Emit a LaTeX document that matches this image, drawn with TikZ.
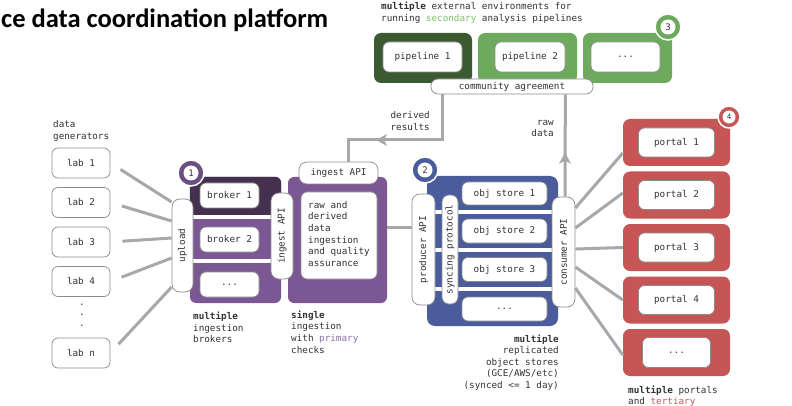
\documentclass[tikz,border=0pt]{standalone}
\usepackage{fontspec}
\setmonofont{DejaVu Sans Mono}
\newfontfamily\titlefont{Carlito}
\usetikzlibrary{calc,arrows.meta}
\definecolor{gdark}{HTML}{3C5A32}
\definecolor{glight}{HTML}{6DAA5E}
\definecolor{gtext}{HTML}{7DBE6B}
\definecolor{pdark}{HTML}{46304F}
\definecolor{pmid}{HTML}{7B5893}
\definecolor{ptext}{HTML}{8C72A8}
\definecolor{bmid}{HTML}{4A5C9C}
\definecolor{rmid}{HTML}{C65656}
\definecolor{rtext}{HTML}{C85A5A}
\definecolor{linegray}{HTML}{A8A8A8}
\definecolor{pillgray}{HTML}{8C8C8C}
\definecolor{txt}{HTML}{333333}
\begin{document}
\begin{tikzpicture}[x=1pt,y=-1pt,
  font=\ttfamily\fontsize{9.3}{11.6}\selectfont, text=txt,
  conn/.style={draw=linegray, line width=3pt},
  pill/.style={draw=pillgray, fill=white, line width=0.7pt, rounded corners=8pt, inner sep=0pt},
  wbox/.style={draw=pillgray, fill=white, line width=0.7pt, rounded corners=6pt, inner sep=0pt},
  cbox/.style={rounded corners=7pt, inner sep=0pt},
  note/.style={align=left, inner sep=0pt},
  ring/.style={circle, draw=white, line width=1.5pt, inner sep=0pt, minimum size=26pt},
  hole/.style={circle, fill=white, inner sep=0pt, minimum size=15pt, font=\ttfamily\fontsize{9}{10}\selectfont}
]
\useasboundingbox (0,0) rectangle (792,406);
\fill[white] (0,0) rectangle (792,406);

% title
\node[anchor=base west, inner sep=0pt, text=black, font=\titlefont\bfseries\fontsize{26.5}{30}\selectfont] (title) at (1,28) {ce data coordination platform};

% top text
\node[note, anchor=west] (toptext) at (381,12.5) {\textbf{multiple} external environments for\\running \textcolor{gtext}{secondary} analysis pipelines};

% pipelines
\node[cbox, fill=gdark, minimum width=98pt, minimum height=50pt] (pipe1) at (423,58) {};
\node[cbox, fill=glight, minimum width=99pt, minimum height=50pt] (pipe2) at (527.5,58) {};
\node[cbox, fill=glight, minimum width=89pt, minimum height=50pt] (pipe3) at (627.5,58) {};
\node[wbox, minimum width=79pt, minimum height=30pt] (pipe1in) at (422.5,57) {pipeline 1};
\node[wbox, minimum width=70pt, minimum height=30pt] (pipe2in) at (530,57) {pipeline 2};
\node[wbox, minimum width=69pt, minimum height=30pt] (pipe3in) at (625.5,57) {...};
\node[ring, fill=glight] (c3) at (668,27) {};
\node[hole] (c3in) at (c3) {3};

% community agreement
\node[pill, rounded corners=7pt, minimum width=162pt, minimum height=15pt] (community) at (512,86.5) {community agreement};

% data generators
\node[note, anchor=west] (gentext) at (53,131) {data\\generators};
\node[wbox, minimum width=58pt, minimum height=30pt] (lab1) at (81,163) {lab 1};
\node[wbox, minimum width=58pt, minimum height=30pt] (lab2) at (81,202.5) {lab 2};
\node[wbox, minimum width=58pt, minimum height=30pt] (lab3) at (81,242) {lab 3};
\node[wbox, minimum width=58pt, minimum height=30pt] (lab4) at (81,281.5) {lab 4};
\node[inner sep=0pt, align=center, font=\ttfamily\fontsize{9.3}{10.5}\selectfont] (dots) at (82,315) {.\\.\\.};
\node[wbox, minimum width=58pt, minimum height=30pt] (labn) at (81,353) {lab n};

% broker block
\node[fill=pmid, rounded corners=6pt, minimum width=91pt, minimum height=126pt, inner sep=0pt] (brokers) at (235.5,240) {};
\fill[pdark, rounded corners=6pt] (brokers.north west) rectangle ($(brokers.north east)+(0,44)$);
\fill[pmid] ($(brokers.north west)+(0,38)$) rectangle ($(brokers.north east)+(0,44)$);
\fill[white] ($(brokers.north west)+(0,38)$) rectangle ($(brokers.north east)+(0,42)$);
\fill[white] ($(brokers.north west)+(0,82)$) rectangle ($(brokers.north east)+(0,86)$);
\node[wbox, minimum width=59pt, minimum height=25pt] (broker1) at (229.5,195.5) {broker 1};
\node[wbox, minimum width=59pt, minimum height=25pt] (broker2) at (229.5,239.5) {broker 2};
\node[wbox, minimum width=59pt, minimum height=25pt] (broker3) at (229.5,284.5) {...};
\node[ring, fill=pmid!75!pdark] (c1) at (191,173) {};
\node[hole] (c1in) at (c1) {1};
\node[pill, minimum width=21pt, minimum height=93pt] (upload) at (182.5,245.5) {\rotatebox{90}{upload}};

% ingest block
\node[fill=pmid, rounded corners=6pt, minimum width=99pt, minimum height=126pt, inner sep=0pt] (ingest) at (337.5,240) {};
\node[wbox, minimum width=76pt, minimum height=87pt] (ingestin) at (339,235.5) {};
\node[note, anchor=north west] (ingesttext) at (308,201) {raw and\\derived\\data\\ingestion\\and quality\\assurance};
\node[pill, minimum width=79pt, minimum height=22pt] (ingestapi) at (338.5,173) {ingest API};
\node[pill, minimum width=22pt, minimum height=86pt] (ingestapiv) at (282,236) {\rotatebox{90}{ingest API}};

\node[note, anchor=west] (brokertext) at (193,327.5) {\textbf{multiple}\\ingestion\\brokers};
\node[note, anchor=west] (singletext) at (291,332) {\textbf{single}\\ingestion\\with \textcolor{ptext}{primary}\\checks};

% store block
\node[fill=bmid, rounded corners=8pt, minimum width=131pt, minimum height=150pt, inner sep=0pt] (stores) at (492.5,251) {};
\draw[white, line width=3.5pt] (435,212) -- (552,212);
\draw[white, line width=3.5pt] (435,250) -- (552,250);
\draw[white, line width=3.5pt] (435,289) -- (552,289);
\node[wbox, minimum width=85pt, minimum height=23pt] (store1) at (504.5,193.5) {obj store 1};
\node[wbox, minimum width=85pt, minimum height=24pt] (store2) at (504.5,231) {obj store 2};
\node[wbox, minimum width=85pt, minimum height=24pt] (store3) at (504.5,269.5) {obj store 3};
\node[wbox, minimum width=85pt, minimum height=24pt] (store4) at (504.5,309) {...};
\node[pill, minimum width=23pt, minimum height=111pt] (producer) at (423.5,249.5) {\rotatebox{90}{producer API}};
\node[pill, rounded corners=7pt, minimum width=16pt, minimum height=109pt] (syncing) at (450,249.5) {\rotatebox{90}{syncing protocol}};
\node[pill, minimum width=23pt, minimum height=110pt] (consumer) at (563.5,252) {\rotatebox{90}{consumer API}};
\node[ring, fill=bmid] (c2) at (425,170) {};
\node[hole] (c2in) at (c2) {2};

\node[note, anchor=east, align=right] (storetext) at (559,362.5) {\textbf{multiple}\\replicated\\object stores\\(GCE/AWS/etc)\\(synced <= 1 day)};

% portals
\foreach \i/\y in {1/142.5,2/195,3/247.5,4/300,5/352.5}{
  \node[cbox, fill=rmid, minimum width=107pt, minimum height=47pt] (portal\i) at (676.5,\y) {};
}
\node[wbox, minimum width=76pt, minimum height=29pt] (portal1in) at (portal1) {portal 1};
\node[wbox, minimum width=76pt, minimum height=29pt] (portal2in) at (portal2) {portal 2};
\node[wbox, minimum width=76pt, minimum height=29pt] (portal3in) at (portal3) {portal 3};
\node[wbox, minimum width=76pt, minimum height=29pt] (portal4in) at (portal4) {portal 4};
\node[wbox, minimum width=68pt, minimum height=30pt] (portal5in) at (portal5) {...};
\node[ring, fill=rmid, minimum size=22pt] (c4) at (729,117) {};
\node[hole, minimum size=13pt, font=\ttfamily\fontsize{7.5}{8}\selectfont] (c4in) at (c4) {4};
\node[note, anchor=west] (portaltext) at (628,396) {\textbf{multiple} portals\\and \textcolor{rtext}{tertiary}};

% connectors: labs -> upload
\draw[conn, shorten <=12pt] (lab1.east) -- ($(upload.west)+(0,-43.5)$);
\draw[conn, shorten <=12pt] (lab2.east) -- ($(upload.west)+(0,-24.5)$);
\draw[conn, shorten <=12pt] (lab3.east) -- ($(upload.west)+(0,-7.5)$);
\draw[conn, shorten <=12pt] (lab4.east) -- ($(upload.west)+(0,12.5)$);
\draw[conn, shorten <=12pt] (labn.east) -- ($(upload.west)+(0,41.5)$);

% ingest -> producer
\draw[conn] ($(ingest.east)+(0,-13)$) -- ($(producer.west)+(0,-22.5)$);

% derived results
\coordinate (dmid) at (376,140);
\draw[conn, line join=miter] ($(community.south west)+(12,0)$) |- (dmid) -| ($(ingestapi.north)+(9.5,0)$);
\fill[linegray] (dmid) -- ++(11,-6) -- ++(-3,6) -- ++(3,6) -- cycle;
\node[note, anchor=east, align=right] (derivedtext) at (430,121) {derived\\results};

% raw data
\coordinate (rmidpt) at ($(consumer.north)+(1.5,-44)$);
\draw[conn] ($(consumer.north)+(1.5,0)$) -- ($(community.south east)+(-28,0)$);
\fill[linegray] (rmidpt) -- ++(-6,11) -- ++(6,-3) -- ++(6,3) -- cycle;
\node[note, anchor=east, align=right] (rawtext) at (554,128.5) {raw\\data};

% consumer -> portals
\draw[conn] ($(consumer.east)+(0,-44)$) -- ($(portal1.west)+(0,10.5)$);
\draw[conn] ($(consumer.east)+(0,-24)$) -- ($(portal2.west)+(0,-2)$);
\draw[conn] ($(consumer.east)+(0,-3)$) -- (portal3.west);
\draw[conn] ($(consumer.east)+(0,15)$) -- (portal4.west);
\draw[conn] ($(consumer.east)+(0,36)$) -- ($(portal5.west)+(0,2.5)$);
\end{tikzpicture}
\end{document}
